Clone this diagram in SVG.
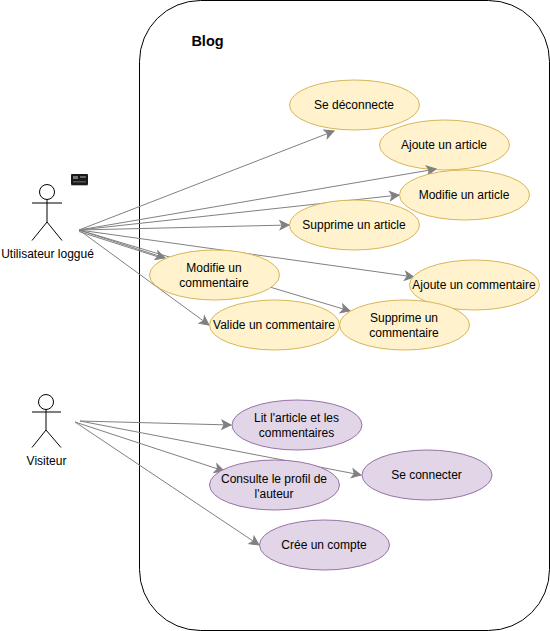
<svg xmlns="http://www.w3.org/2000/svg" width="550" height="631" viewBox="0 0 550 631">
<style>
text{font-family:"Liberation Sans",Arial,sans-serif;font-size:12px;fill:#000;text-anchor:middle}
.y{fill:#fff2cc;stroke:#d6b656;stroke-width:1}
.p{fill:#e1d5e7;stroke:#9673a6;stroke-width:1}
.c{fill:none;stroke:#808080;stroke-width:1;marker-end:url(#a)}
.s{fill:none;stroke:#000;stroke-width:1}
</style>
<defs>
<marker id="a" markerUnits="userSpaceOnUse" markerWidth="12" markerHeight="12" refX="9" refY="4.5" orient="auto" overflow="visible">
<path d="M0 0L9 4.5L0 9L2.2 4.5Z" fill="#808080" stroke="#808080" stroke-width="1"/>
</marker>
</defs>
<rect width="550" height="631" fill="#fff"/>
<g id="blog">
<rect x="139.500" y="0.500" width="410" height="630" rx="61" ry="61" fill="#fff" stroke="#000" stroke-width="1"/>
<text x="207.500" y="46" style="font-size:14.500px;font-weight:bold">Blog</text>
</g>
<g id="uc-ajoute-article"><ellipse class="y" cx="444.500" cy="145" rx="65" ry="25"/><text x="444" y="149">Ajoute un article</text></g>
<g id="connectors">
<line class="c" x1="79" y1="230" x2="334" y2="131"/>
<line class="c" x1="79" y1="230" x2="436" y2="169"/>
<line class="c" x1="79" y1="230" x2="399" y2="195"/>
<line class="c" x1="79" y1="230" x2="289" y2="225"/>
<line class="c" x1="79" y1="230" x2="165" y2="258"/>
<line x1="79" y1="231.500" x2="160" y2="257.500" stroke="#808080" stroke-width="1"/>
<line class="c" x1="79" y1="230" x2="414" y2="277"/>
<line class="c" x1="79" y1="230" x2="350" y2="311"/>
<line class="c" x1="79" y1="230" x2="209" y2="325"/>
<line class="c" x1="80" y1="421" x2="231" y2="425"/>
<line class="c" x1="80" y1="421" x2="361" y2="475"/>
<line class="c" x1="75" y1="422" x2="224" y2="471"/>
<line class="c" x1="75" y1="422" x2="259" y2="545"/>
</g>
<g id="uc-deconnecte"><ellipse class="y" cx="354.500" cy="105" rx="65" ry="25"/><text x="354" y="109">Se déconnecte</text></g>
<g id="uc-modifie-article"><ellipse class="y" cx="464.500" cy="195" rx="65" ry="25"/><text x="464" y="199">Modifie un article</text></g>
<g id="uc-supprime-article"><ellipse class="y" cx="354.500" cy="225" rx="65" ry="25"/><text x="354" y="229">Supprime un article</text></g>
<g id="uc-modifie-commentaire"><ellipse class="y" cx="214.500" cy="275" rx="65" ry="25"/><text x="214" y="272">Modifie un</text><text x="214" y="287">commentaire</text></g>
<g id="uc-ajoute-commentaire"><ellipse class="y" cx="474.500" cy="285" rx="65" ry="25"/><text x="474" y="289">Ajoute un commentaire</text></g>
<g id="uc-valide-commentaire"><ellipse class="y" cx="274.500" cy="325" rx="65" ry="25"/><text x="274" y="329">Valide un commentaire</text></g>
<g id="uc-supprime-commentaire"><ellipse class="y" cx="404.500" cy="325" rx="65" ry="25"/><text x="404" y="322">Supprime un</text><text x="404" y="337">commentaire</text></g>
<g id="uc-lit"><ellipse class="p" cx="297" cy="425" rx="65" ry="25"/><text x="296.500" y="422">Lit l'article et les</text><text x="296.500" y="437">commentaires</text></g>
<g id="uc-connecter"><ellipse class="p" cx="427" cy="475" rx="65" ry="25"/><text x="426.500" y="479">Se connecter</text></g>
<g id="uc-consulte"><ellipse class="p" cx="274.500" cy="485" rx="65" ry="25"/><text x="274" y="483">Consulte le profil de</text><text x="274" y="498">l'auteur</text></g>
<g id="uc-cree"><ellipse class="p" cx="324.500" cy="545" rx="65" ry="25"/><text x="324" y="549">Crée un compte</text></g>
<g id="actor-utilisateur">
<circle class="s" cx="47" cy="192" r="7.500"/>
<path class="s" d="M47 199.500V222M32 203H62M47 222L32 240.500M47 222L62 240.500"/>
<text x="47.500" y="258">Utilisateur loggué</text>
</g>
<g id="actor-visiteur">
<circle class="s" cx="46" cy="402" r="7.500"/>
<path class="s" d="M46 409.500V430M32 412H61M46 430L32 447.500M46 430L61 447.500"/>
<text x="46.500" y="465">Visiteur</text>
</g>
<g id="icon">
<rect x="71" y="174" width="17" height="11" rx="1" fill="#1a1a1a"/>
<rect x="73" y="176" width="5" height="3" fill="#777"/>
<rect x="80" y="176" width="6" height="2" fill="#666"/>
<rect x="73" y="181" width="13" height="1.500" fill="#555"/>
<rect x="71" y="185" width="17" height="1" fill="#bbb"/>
</g>
</svg>
